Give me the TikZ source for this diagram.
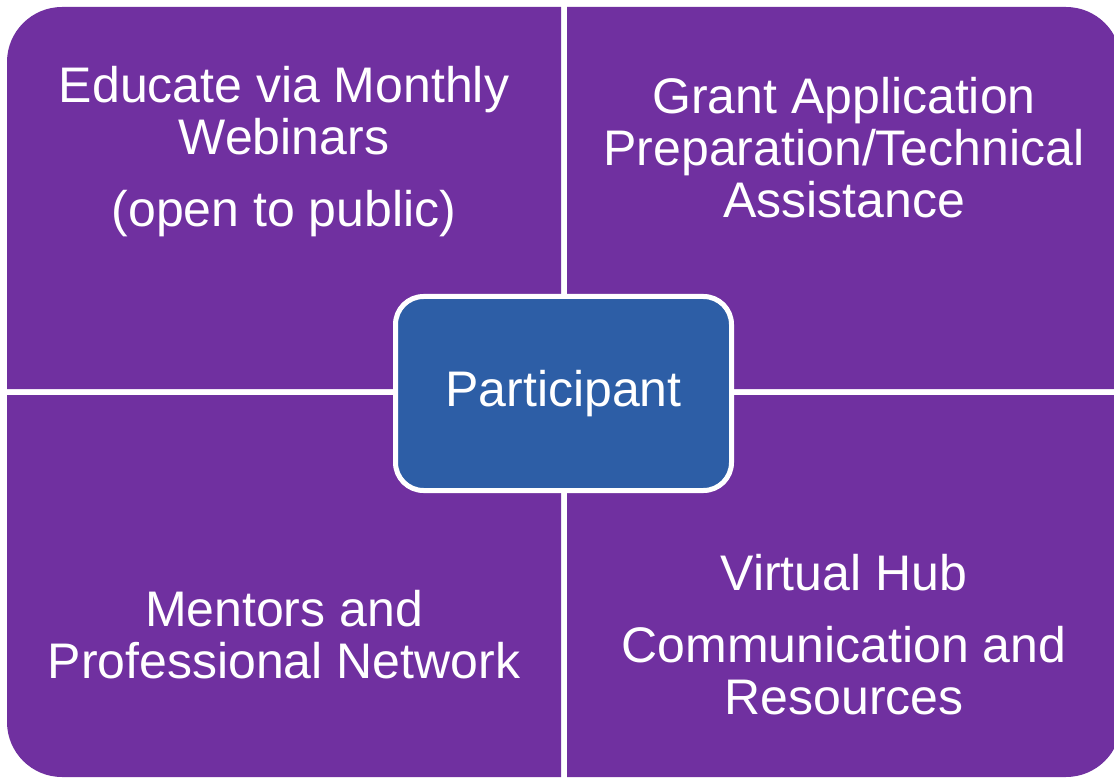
\documentclass[tikz,border=0pt]{standalone}
\usepackage{fontspec}
\setmainfont{Liberation Sans}
\usetikzlibrary{positioning}
\definecolor{quadpurple}{HTML}{7030A0}
\definecolor{hubblue}{HTML}{2D5EA6}
\tikzset{%
	quad/.style={fill=quadpurple},
	quadtext/.style={text=white, align=center, inner sep=0pt,%
		font=\fontsize{25pt}{26pt}\selectfont},
	hub/.style={draw=white, line width=2.5pt, fill=hubblue, rounded corners=14pt,%
		minimum width=168pt, minimum height=97pt, text=white,%
		font=\fontsize{25pt}{26pt}\selectfont}
}
\begin{document}
\begin{tikzpicture}[x=0.5pt, y=0.5pt]
	\useasboundingbox (0,0) rectangle (1114,778);
	\clip (0,0) rectangle (1114,778);

	% four quadrants
	\fill[quad] (561,389) -- (7,389) -- (7,716) arc[start angle=180, end angle=90, radius=27.5pt] -- (561,771) -- cycle;
	\fill[quad] (567,389) -- (567,771) -- (1066,771) arc[start angle=90, end angle=0, radius=27.5pt] -- (1121,389) -- cycle;
	\fill[quad] (561,383) -- (561,1) -- (62,1) arc[start angle=270, end angle=180, radius=27.5pt] -- (7,383) -- cycle;
	\fill[quad] (567,383) -- (1121,383) -- (1121,56) arc[start angle=0, end angle=-90, radius=27.5pt] -- (567,1) -- cycle;

	\node[quadtext] (webinars) at (284,626) {Educate via Monthly\\Webinars\\[10pt](open to public)};
	\node[quadtext] (grant) at (844,630) {Grant Application\\Preparation/Technical\\Assistance};
	\node[quadtext] (mentors) at (284,143) {Mentors and\\Professional Network};
	\node[quadtext] (virtual) at (844,143) {Virtual Hub\\[10pt]Communication and\\Resources};

	\node[hub] (participant) at (563.5,384.5) {Participant};
\end{tikzpicture}
\end{document}
